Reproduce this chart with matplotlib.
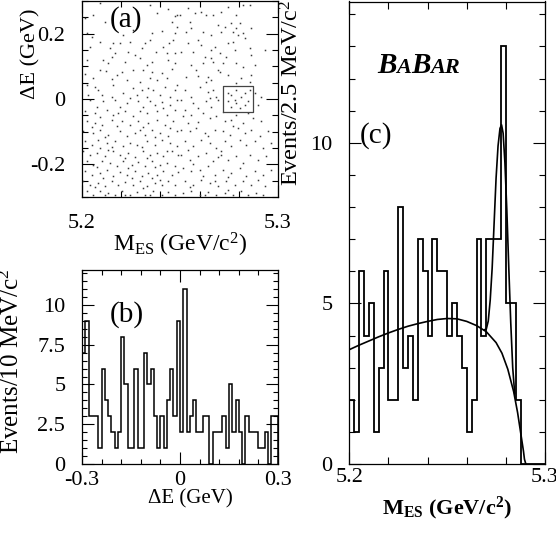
import numpy as np
import matplotlib
matplotlib.use('Agg')
import matplotlib.pyplot as plt
from matplotlib.ticker import MultipleLocator, FixedLocator
from matplotlib.offsetbox import TextArea, HPacker, AnnotationBbox

plt.rcParams['font.family'] = ['Liberation Serif', 'DejaVu Serif']
plt.rcParams['mathtext.fontset'] = 'custom'
plt.rcParams['mathtext.rm'] = 'Liberation Serif'
plt.rcParams['mathtext.it'] = 'Liberation Serif:italic'
plt.rcParams['mathtext.bf'] = 'Liberation Serif:bold'
plt.rcParams['axes.unicode_minus'] = False

# ---------------- data ----------------
# panel (a): scatter of candidates, (M_ES [MeV], Delta E [MeV])
dots_a = [
    (5209.2, 293), (5234.7, 288), (5244.1, 274), (5248.3, 257), (5205.8, 257), (5201.6, 247),
    (5211.8, 237), (5238.1, 262), (5245.8, 237), (5247.5, 254), (5202.4, 201), (5205.0, 191),
    (5221.1, 196), (5235.6, 201), (5240.7, 209), (5247.5, 201), (5248.3, 221), (5226.2, 211),
    (5209.2, 176), (5216.0, 170), (5219.4, 172), (5224.5, 176), (5230.5, 155), (5232.2, 170),
    (5244.6, 170), (5204.1, 160), (5214.3, 155), (5234.7, 181), (5241.5, 160), (5246.6, 181),
    (5216.9, 140), (5223.7, 143), (5227.1, 135), (5237.8, 145), (5243.2, 140), (5247.5, 142),
    (5202.4, 119), (5210.9, 119), (5213.5, 109), (5222.0, 114), (5233.0, 104), (5235.6, 114),
    (5244.1, 119), (5247.5, 111), (5215.2, 130), (5229.6, 124), (5201.6, 77), (5209.2, 89),
    (5212.3, 87), (5220.3, 84), (5226.2, 89), (5231.3, 89), (5235.6, 84), (5240.7, 81),
    (5245.8, 91), (5205.8, 63), (5215.2, 61), (5222.8, 58), (5229.6, 53), (5234.7, 63),
    (5238.4, 58), (5243.2, 63), (5217.7, 73), (5202.4, 43), (5206.7, 38), (5216.0, 43),
    (5226.2, 33), (5230.5, 28), (5233.9, 33), (5236.4, 28), (5242.4, 38), (5248.3, 43),
    (5203.3, 12), (5210.1, 12), (5215.2, 7), (5221.1, 17), (5227.9, 12), (5233.0, 7),
    (5239.8, 12), (5244.9, 7), (5247.5, 28), (5224.5, 2), (5208.4, 28),
    (5249.9, 257), (5257.5, 262), (5260.9, 267), (5263.5, 257), (5266.9, 257), (5271.1, 267),
    (5274.5, 283), (5278.8, 257), (5282.2, 288), (5285.6, 288), (5254.1, 278), (5255.0, 237),
    (5255.8, 216), (5269.4, 227), (5272.8, 221), (5276.2, 232), (5278.8, 216), (5280.5, 232),
    (5282.2, 201), (5253.3, 206), (5261.8, 206), (5266.0, 196), (5271.1, 206), (5277.1, 206),
    (5286.4, 216), (5279.6, 196), (5259.2, 181), (5254.1, 172), (5260.9, 165), (5267.7, 160),
    (5274.5, 170), (5277.1, 176), (5283.0, 186), (5256.7, 145), (5250.7, 145), (5266.0, 150),
    (5270.3, 140), (5277.9, 150), (5285.6, 155), (5293.2, 150), (5262.6, 130), (5266.0, 124),
    (5273.7, 130), (5286.4, 135), (5255.8, 104), (5261.8, 109), (5272.0, 109), (5278.8, 109),
    (5266.9, 114), (5282.2, 99), (5288.1, 104), (5253.3, 68), (5259.2, 70), (5264.3, 68),
    (5269.4, 89), (5270.3, 84), (5274.5, 73), (5266.0, 58), (5263.5, 53), (5281.3, 63),
    (5286.4, 73), (5278.8, 48), (5285.6, 53), (5258.4, 89), (5252.4, 28), (5260.1, 38),
    (5264.3, 22), (5266.9, 28), (5255.8, 7), (5265.2, 2), (5274.5, 17), (5276.2, 12),
    (5278.8, 28), (5281.3, 7), (5283.0, 17), (5285.6, 28), (5288.1, 17), (5291.5, 7),
    (5268.6, 7),
    (5204.1, -2), (5210.9, -7), (5216.9, -2), (5222.8, -12), (5228.8, -7), (5234.7, -5),
    (5240.7, -9), (5244.9, -17), (5248.3, -2), (5207.5, -23), (5219.4, -26), (5231.3, -23),
    (5237.3, -17), (5201.6, -38), (5206.7, -43), (5212.6, -33), (5216.0, -48), (5222.0, -38),
    (5226.2, -53), (5233.0, -43), (5238.1, -38), (5243.2, -48), (5247.5, -33), (5209.2, -56),
    (5229.6, -36), (5218.6, -43), (5241.5, -28), (5202.4, -68), (5206.7, -74), (5210.1, -79),
    (5215.2, -63), (5220.3, -68), (5224.5, -79), (5228.8, -66), (5233.9, -74), (5238.1, -63),
    (5242.4, -79), (5246.6, -68), (5217.7, -84), (5231.3, -87), (5244.9, -89), (5205.0, -87),
    (5200.7, -99), (5205.8, -104), (5209.2, -94), (5213.5, -109), (5219.4, -99), (5222.8, -114),
    (5227.1, -104), (5232.2, -109), (5235.6, -94), (5239.8, -104), (5244.1, -114), (5248.3, -99),
    (5211.8, -117), (5229.6, -94), (5237.3, -117), (5201.6, -130), (5205.0, -140), (5208.4, -125),
    (5212.6, -135), (5216.9, -130), (5221.1, -145), (5224.5, -135), (5227.9, -140), (5233.0, -130),
    (5237.3, -140), (5240.7, -125), (5244.9, -135), (5248.3, -145), (5215.2, -148), (5230.5, -148),
    (5209.2, -150), (5200.7, -160), (5204.1, -170), (5207.5, -165), (5211.8, -176), (5216.0, -160),
    (5219.4, -170), (5223.7, -165), (5227.1, -179), (5231.3, -160), (5234.7, -170), (5238.1, -165),
    (5241.5, -176), (5245.8, -160), (5249.2, -170), (5213.5, -155), (5222.0, -181), (5233.0, -181),
    (5243.2, -158), (5202.4, -191), (5205.8, -201), (5210.1, -191), (5214.3, -196), (5217.7, -206),
    (5221.1, -191), (5225.4, -201), (5228.8, -193), (5232.2, -206), (5235.6, -191), (5239.8, -201),
    (5243.2, -196), (5247.5, -206), (5207.5, -209), (5223.7, -211), (5237.3, -209), (5201.6, -221),
    (5205.0, -232), (5209.2, -227), (5212.6, -216), (5216.0, -237), (5219.4, -223), (5222.8, -232),
    (5227.1, -219), (5230.5, -237), (5233.9, -227), (5238.1, -234), (5241.5, -221), (5245.8, -232),
    (5249.2, -223), (5210.9, -242), (5225.4, -242), (5235.6, -242), (5200.7, -252), (5204.1, -262),
    (5208.4, -257), (5211.8, -267), (5215.2, -252), (5218.6, -262), (5222.0, -254), (5226.2, -264),
    (5229.6, -252), (5233.0, -267), (5237.3, -257), (5240.7, -264), (5244.1, -252), (5247.5, -262),
    (5206.7, -270), (5231.3, -272), (5239.8, -247), (5202.4, -283), (5205.8, -293), (5209.2, -281),
    (5213.5, -288), (5216.9, -295), (5220.3, -283), (5224.5, -293), (5227.9, -285), (5232.2, -295),
    (5236.4, -283), (5240.7, -293), (5244.1, -285), (5247.5, -294), (5211.8, -295), (5222.0, -295),
    (5234.7, -295),
    (5250.7, -2), (5256.7, -12), (5263.5, -7), (5266.0, -23), (5269.4, -2), (5274.5, -7),
    (5276.2, -23), (5278.8, -12), (5280.5, -28), (5283.0, -17), (5284.7, -5), (5289.8, -17),
    (5259.2, -28), (5252.4, -33), (5277.9, -2), (5251.6, -53), (5255.8, -48), (5261.8, -43),
    (5265.2, -58), (5268.6, -53), (5272.8, -68), (5276.2, -63), (5278.8, -48), (5282.2, -74),
    (5287.3, -58), (5291.5, -68), (5254.1, -74), (5259.2, -70), (5284.7, -43), (5250.7, -94),
    (5255.0, -99), (5258.4, -89), (5262.6, -104), (5267.7, -94), (5272.0, -99), (5275.4, -109),
    (5279.6, -89), (5283.0, -104), (5286.4, -94), (5290.7, -114), (5294.9, -99), (5264.3, -114),
    (5277.1, -84), (5252.4, -130), (5256.7, -145), (5260.9, -125), (5265.2, -135), (5268.6, -150),
    (5272.8, -130), (5276.2, -145), (5280.5, -125), (5283.9, -140), (5288.1, -130), (5292.4, -150),
    (5296.6, -135), (5254.1, -155), (5271.1, -158), (5250.7, -170), (5255.0, -186), (5259.2, -176),
    (5263.5, -165), (5266.9, -191), (5271.1, -170), (5274.5, -186), (5278.8, -176), (5282.2, -196),
    (5285.6, -170), (5289.8, -186), (5294.1, -176), (5256.7, -199), (5269.4, -179), (5251.6, -211),
    (5255.8, -221), (5260.1, -216), (5264.3, -206), (5267.7, -232), (5272.0, -216), (5276.2, -227),
    (5280.5, -211), (5283.9, -237), (5288.1, -221), (5292.4, -232), (5296.6, -216), (5261.8, -237),
    (5274.5, -240), (5252.4, -252), (5256.7, -262), (5260.9, -247), (5265.2, -257), (5269.4, -267),
    (5273.7, -252), (5277.9, -264), (5282.2, -252), (5286.4, -262), (5289.8, -247), (5293.2, -267),
    (5255.0, -270), (5267.7, -250), (5251.6, -288), (5255.8, -283), (5260.1, -293), (5264.3, -285),
    (5268.6, -295), (5272.8, -288), (5277.1, -293), (5281.3, -283), (5284.7, -295), (5289.0, -288),
    (5292.4, -295), (5262.6, -295), (5274.5, -278),
]
signal_box_mes = [5.272, 5.287]
signal_box_de = [-0.04, 0.04]

# panel (b): Delta E histogram, 10 MeV bins from -0.3 to 0.3 GeV
de_range = (-0.3, 0.3)
de_counts = [7, 9, 3, 3, 3, 1, 6, 4, 3, 2, 1, 2, 8, 5, 1, 1, 6, 1, 1, 7,
             5, 6, 3, 1, 3, 1, 4, 6, 3, 9, 2, 11, 2, 3, 4, 2, 2, 3, 3, 0,
             2, 2, 2, 3, 1, 5, 2, 4, 2, 0, 3, 2, 2, 2, 1, 1, 2, 0, 3, 3]

# panel (c): M_ES histogram, 2.5 MeV bins from 5.2 to 5.3 GeV
mes_range = (5.2, 5.3)
mes_counts = [2, 1, 6, 4, 5, 1, 3, 6, 2, 2, 8, 3, 4, 2, 7, 6, 4, 7, 6, 6,
              4, 5, 4, 3, 1, 2, 7, 4, 7, 7, 7, 13, 5, 5, 2, 0, 0, 0, 0, 0]

# fitted curves
bkg_x = [5.200, 5.205, 5.210, 5.215, 5.220, 5.225, 5.230, 5.235, 5.240, 5.245, 5.250,
         5.255, 5.260, 5.265, 5.270, 5.275, 5.278, 5.281, 5.284, 5.286, 5.287, 5.288,
         5.289, 5.2895, 5.2902]
bkg_y = [3.56, 3.70, 3.83, 3.96, 4.08, 4.19, 4.29, 4.37, 4.44, 4.50, 4.53,
         4.52, 4.44, 4.31, 4.12, 3.78, 3.45, 2.95, 2.25, 1.60, 1.20, 0.80,
         0.40, 0.15, 0.0]
tot_x = [5.2690, 5.2700, 5.2710, 5.2720, 5.2730, 5.2740, 5.2750, 5.2760, 5.2770, 5.2778,
         5.2786, 5.2795, 5.2805, 5.2815, 5.2825, 5.2835, 5.2845]
tot_y = [4.18, 4.20, 4.45, 5.10, 6.10, 7.50, 8.90, 9.90, 10.45, 10.56,
         10.30, 9.40, 7.90, 6.10, 4.40, 3.00, 2.20]

# ---------------- figure ----------------
W, H = 556, 533
fig = plt.figure(figsize=(W / 100, H / 100), dpi=100)
axA = fig.add_axes([82 / W, 1 - 197 / H, 196 / W, 196 / H])
axB = fig.add_axes([82 / W, 1 - 464 / H, 196 / W, 194 / H])
axC = fig.add_axes([349.3 / W, 1 - 464 / H, 195.7 / W, 462.5 / H])

PX = 0.72  # points per pixel
TICK_FS = 16


def frame(ax):
    for s in ax.spines.values():
        s.set_linewidth(0.9)
    ax.tick_params(which='both', direction='in', top=True, right=True,
                   width=0.8, labelsize=TICK_FS, colors='k')


# ---- panel (a)
mes_a = [p[0] / 1000.0 for p in dots_a]
de_a = [p[1] / 1000.0 for p in dots_a]
axA.plot(mes_a, de_a, linestyle='none', marker='s', markersize=1.1,
         markeredgewidth=0, color='#3a3a3a')
axA.plot([signal_box_mes[0], signal_box_mes[1], signal_box_mes[1], signal_box_mes[0], signal_box_mes[0]],
         [signal_box_de[0], signal_box_de[0], signal_box_de[1], signal_box_de[1], signal_box_de[0]],
         color='#444444', lw=0.9)
axA.set_xlim(5.2, 5.3)
axA.set_ylim(-0.3, 0.3)
frame(axA)
axA.set_xticks([5.2, 5.3], ['5.2', '5.3'])
axA.xaxis.set_minor_locator(FixedLocator([5.22, 5.24, 5.26, 5.28]))
axA.set_yticks([-0.2, 0, 0.2], ['-0.2', '0', '0.2'])
axA.yaxis.set_minor_locator(MultipleLocator(0.05))
axA.tick_params(axis='x', which='major', length=12 * PX, pad=12)
axA.tick_params(axis='x', which='minor', length=6 * PX)
axA.tick_params(axis='y', which='major', length=12 * PX, pad=12)
axA.tick_params(axis='y', which='minor', length=6 * PX)
axA.text(0.143, 0.903, '(a)', transform=axA.transAxes, fontsize=21, ha='left', va='center')
axA.text(-0.262, 0.964, 'ΔE (GeV)', transform=axA.transAxes, fontsize=16,
         rotation=90, ha='center', va='top')
axA.text(0.5, -0.276, r'M$_{\rm ES}$ (GeV/c$^2$)', transform=axA.transAxes, fontsize=17,
         ha='center', va='baseline')

# ---- panel (b)
de_edges = np.linspace(de_range[0], de_range[1], len(de_counts) + 1)
axB.stairs(de_counts, de_edges, color='k', lw=1.1, baseline=0)
axB.set_xlim(*de_range)
axB.set_ylim(0, 12.2)
frame(axB)
axB.set_xticks([-0.3, 0, 0.3], ['-0.3', '0', '0.3'])
axB.xaxis.set_minor_locator(FixedLocator([-0.24, -0.18, -0.12, -0.06, 0.06, 0.12, 0.18, 0.24]))
axB.set_yticks([0, 2.5, 5, 7.5, 10], ['0', '2.5', '5', '7.5', '10'])
axB.yaxis.set_minor_locator(MultipleLocator(0.5))
axB.tick_params(axis='x', which='major', length=12 * PX, pad=5)
axB.tick_params(axis='x', which='minor', length=5 * PX)
axB.tick_params(axis='y', which='major', length=12 * PX, pad=12)
axB.tick_params(axis='y', which='minor', length=5 * PX)
axB.text(0.143, 0.768, '(b)', transform=axB.transAxes, fontsize=21, ha='left', va='center')
axB.text(-0.36, 1.01, r'Events/10 MeV/c$^2$', transform=axB.transAxes, fontsize=18,
         rotation=90, ha='center', va='top')
axB.text(0.551, -0.205, 'ΔE (GeV)', transform=axB.transAxes, fontsize=15,
         ha='center', va='baseline')

# ---- panel (c)
mes_edges = np.linspace(mes_range[0], mes_range[1], len(mes_counts) + 1)
axC.stairs(mes_counts, mes_edges, color='k', lw=1.3, baseline=0)
axC.plot(bkg_x, bkg_y, color='k', lw=1.2)
axC.plot(tot_x, tot_y, color='k', lw=1.2)
axC.set_xlim(*mes_range)
axC.set_ylim(0, 14.4)
frame(axC)
axC.set_xticks([5.2, 5.3], ['5.2', '5.3'])
axC.xaxis.set_minor_locator(FixedLocator([5.22, 5.24, 5.26, 5.28]))
axC.set_yticks([0, 5, 10], ['0', '5', '10'])
axC.yaxis.set_minor_locator(MultipleLocator(1))
axC.tick_params(axis='x', which='major', length=12 * PX, pad=3)
axC.tick_params(axis='x', which='minor', length=7 * PX)
axC.tick_params(axis='y', which='major', length=12 * PX, pad=12)
axC.tick_params(axis='y', which='minor', length=6 * PX)
axC.text(0.055, 0.711, '(c)', transform=axC.transAxes, fontsize=21, ha='left', va='center')
axC.text(-0.292, 1.003, r'Events/2.5 MeV/c$^2$', transform=axC.transAxes, fontsize=17.5,
         rotation=90, ha='center', va='top')
axC.text(0.5, -0.108, r'M$_{\bf ES}$ (GeV/c$^{\bf 2}$)', transform=axC.transAxes, fontsize=16,
         ha='center', va='baseline', fontweight='bold')


def logo_part(s, size):
    return TextArea(s, textprops=dict(fontsize=size, fontweight='bold', fontstyle='italic',
                                      family='Liberation Serif'))


logo = HPacker(children=[logo_part('B', 21), logo_part('A', 16), logo_part('B', 21),
                         logo_part('AR', 16)], align='baseline', pad=0, sep=0)
axC.add_artist(AnnotationBbox(logo, (0.141, 0.832), xycoords='axes fraction',
                              frameon=False, box_alignment=(0, 0)))

fig.savefig('out.png', dpi=100)
